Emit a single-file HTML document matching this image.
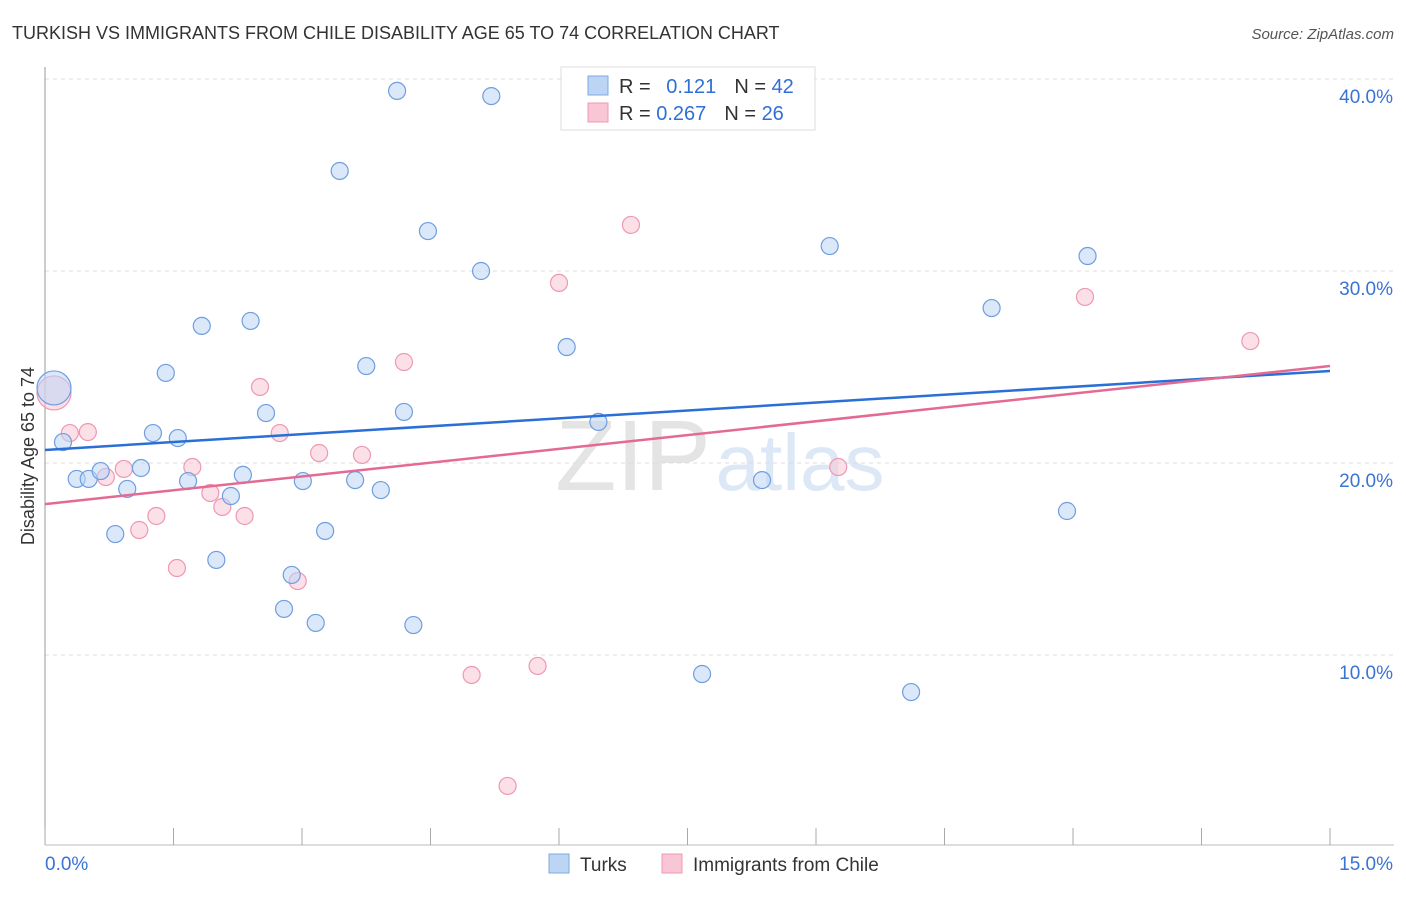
<!DOCTYPE html>
<html><head><meta charset="utf-8"><style>
body{margin:0;background:#fff;font-family:"Liberation Sans",sans-serif;}
svg text{font-family:"Liberation Sans",sans-serif;}
</style></head><body>
<svg id="chart" width="1406" height="892">
<text x="12" y="39" font-size="18" fill="#333">TURKISH VS IMMIGRANTS FROM CHILE DISABILITY AGE 65 TO 74 CORRELATION CHART</text>
<text x="1394" y="39" font-size="15" fill="#555" font-style="italic" text-anchor="end">Source: ZipAtlas.com</text>
<text x="633" y="490" font-size="100" fill="#e4e4e4" font-family="Liberation Serif" text-anchor="middle">ZIP</text>
<text x="800" y="490" font-size="80" fill="#dde8f7" text-anchor="middle">atlas</text>
<g id="grid"></g>
<g id="axes"></g>
<g id="marks"></g>
<text transform="translate(34,456) rotate(-90)" font-size="18" fill="#333" text-anchor="middle">Disability Age 65 to 74</text>
<g>
<rect x="561" y="67" width="254" height="63" fill="#fff" stroke="#ddd"/>
<rect x="588" y="76" width="20" height="19" fill="#bcd5f5" stroke="#7fa8e3"/>
<rect x="588" y="103" width="20" height="19" fill="#f9c6d5" stroke="#ee98b2"/>
<text x="619" y="93" font-size="20" fill="#333">R = <tspan fill="#2f6fd6" dx="10">0.121</tspan><tspan fill="#333" dx="18">N = </tspan><tspan fill="#2f6fd6">42</tspan></text>
<text x="619" y="120" font-size="20" fill="#333">R = <tspan fill="#2f6fd6">0.267</tspan><tspan fill="#333" dx="18">N = </tspan><tspan fill="#2f6fd6">26</tspan></text>
</g>
<g>
<rect x="549" y="854" width="20" height="19" fill="#bcd5f5" stroke="#7fa8e3"/>
<text x="580" y="871" font-size="19" fill="#333">Turks</text>
<rect x="662" y="854" width="20" height="19" fill="#f9c6d5" stroke="#ee98b2"/>
<text x="693" y="871" font-size="19" fill="#333">Immigrants from Chile</text>
</g>
</svg>
<script>
const turksX=[0.105,0.21,0.37,0.51,0.65,0.82,0.96,1.12,1.26,1.41,1.55,1.67,1.83,2.00,2.17,2.31,2.40,2.58,2.79,2.88,3.01,3.16,3.27,3.44,3.62,3.75,3.92,4.11,4.19,4.30,4.47,5.09,5.21,6.09,6.46,7.67,8.37,9.16,10.11,11.05,11.93,12.17];
const turksY=[23.91,21.09,19.17,19.17,19.58,16.30,18.65,19.74,21.56,24.69,21.30,19.06,27.14,14.95,18.28,19.38,27.40,22.60,12.40,14.17,19.06,11.67,16.46,35.21,19.11,25.05,18.59,39.38,22.66,11.56,32.08,30.00,39.11,26.04,22.14,9.01,19.11,31.30,8.07,28.07,17.50,30.78];
const chileX=[0.105,0.29,0.50,0.71,0.92,1.10,1.30,1.54,1.72,1.93,2.07,2.33,2.51,2.74,2.95,3.20,3.70,4.19,4.98,5.40,5.75,6.00,6.84,9.26,12.14,14.07];
const chileY=[23.65,21.56,21.61,19.27,19.69,16.51,17.24,14.53,19.79,18.44,17.71,17.24,23.96,21.56,13.85,20.52,20.42,25.26,8.96,3.18,9.43,29.38,32.40,19.79,28.65,26.35];
const turksTrend=[20.68,24.79];
const chileTrend=[17.86,25.05];
const yTicks=[10,20,30,40];
const xTickLabels=["0.0%","15.0%"];
const NS="http://www.w3.org/2000/svg";
const X=v=>45+v*1285/15;
const Y=v=>847-v*19.2;
function mk(tag,attrs,parent){const e=document.createElementNS(NS,tag);for(const k in attrs)e.setAttribute(k,attrs[k]);parent.appendChild(e);return e;}
const grid=document.getElementById('grid'),axes=document.getElementById('axes'),marks=document.getElementById('marks');
yTicks.forEach(t=>{
 const l=mk('line',{x1:45,x2:1394,y1:Y(t),y2:Y(t),stroke:'#ddd','stroke-dasharray':'4,4'},grid);
 
 
 const tx=mk('text',{x:1393,y:Y(t)+24,'font-size':19,fill:'#3a73d4','text-anchor':'end'},axes);
 tx.textContent=t.toFixed(1)+'%';
 
 
});
const ax=mk('line',{x1:45,x2:45,y1:67,y2:845,stroke:'#999'},axes);


const bx=mk('line',{x1:45,x2:1394,y1:845,y2:845,stroke:'#bbb'},axes);


for(let i=0;i<=10;i++){
 const tk=mk('line',{x1:X(i*1.5),x2:X(i*1.5),y1:828,y2:845,stroke:'#aaa'},axes);
 
 
}
const xl0=mk('text',{x:45,y:870,'font-size':19,fill:'#3a73d4'},axes);xl0.textContent=xTickLabels[0];


const xl1=mk('text',{x:1393,y:870,'font-size':19,fill:'#3a73d4','text-anchor':'end'},axes);xl1.textContent=xTickLabels[1];


function dots(xs,ys,fill,stroke,name){
 xs.forEach((x,i)=>{
  const r=i===0?17:8.5;
  const c=mk('circle',{cx:X(x),cy:Y(ys[i]),r:r,fill:fill,'fill-opacity':0.55,stroke:stroke,'stroke-width':1.2},marks);
  
  
 });
}
dots(chileX,chileY,'#f9c6d5','#ee98b2','point-chile');
dots(turksX,turksY,'#bcd5f5','#6f9ee0','point-turks');
const t1=mk('line',{x1:X(0),y1:Y(turksTrend[0]),x2:X(15),y2:Y(turksTrend[1]),stroke:'#2a6fd6','stroke-width':2.5},marks);


const t2=mk('line',{x1:X(0),y1:Y(chileTrend[0]),x2:X(15),y2:Y(chileTrend[1]),stroke:'#e46a94','stroke-width':2.5},marks);


</script>
</body></html>
